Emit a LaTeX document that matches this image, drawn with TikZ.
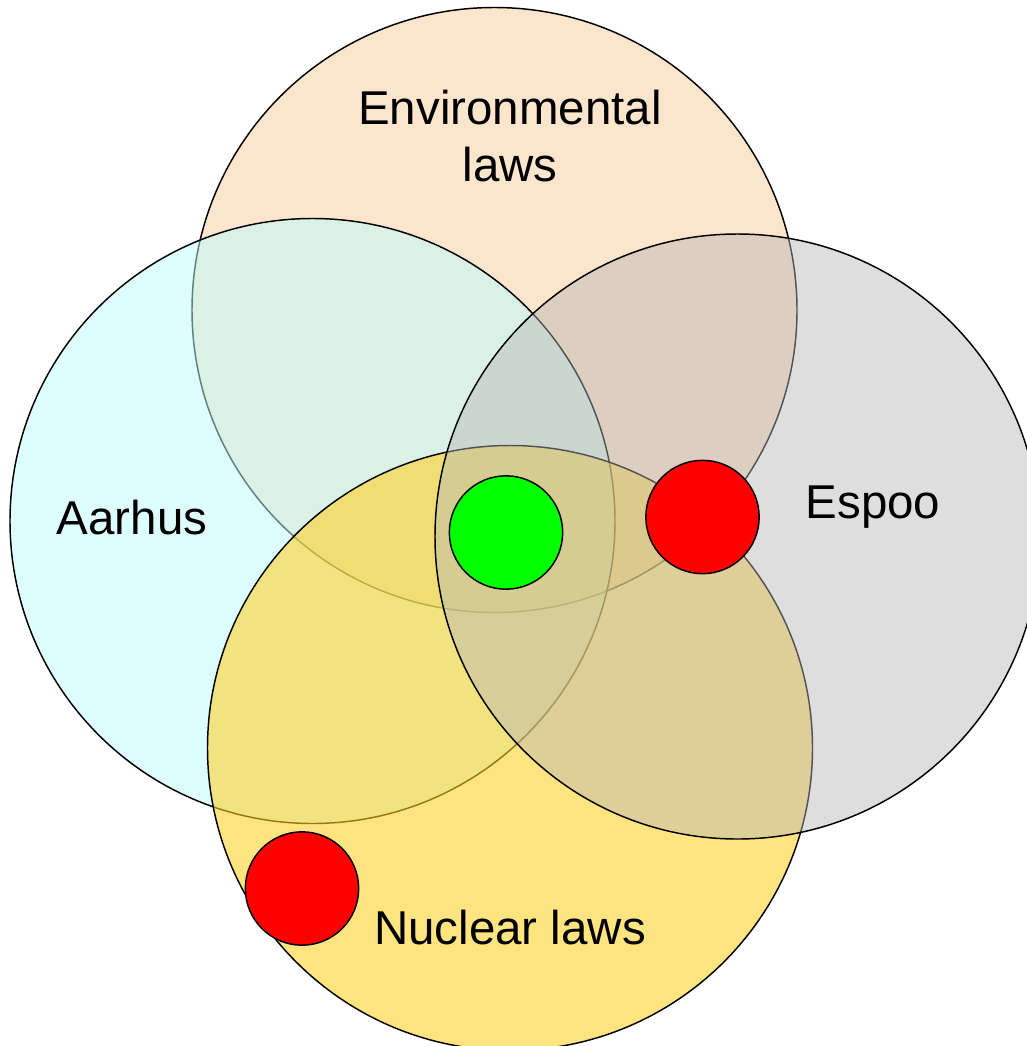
\documentclass[tikz,border=0pt]{standalone}
\usepackage{fontspec}
\setmainfont{Liberation Sans}
\usetikzlibrary{positioning}

\definecolor{envpeach}{RGB}{252,229,205}
\definecolor{aarhuscyan}{RGB}{190,253,253}
\definecolor{nuclearyellow}{RGB}{255,209,36}
\definecolor{espoogray}{RGB}{183,183,183}
\definecolor{dotgreen}{RGB}{0,255,0}
\definecolor{dotred}{RGB}{255,0,0}

\begin{document}
\begin{tikzpicture}[x=0.75pt, y=-0.75pt,
    setline/.style={draw=black, line width=1.1pt},
    dot/.style={circle, draw=black, line width=1.1pt, minimum size=85pt, inner sep=0pt},
    lbl/.style={font=\fontsize{35.6}{42.8}\selectfont, align=center}]
    \useasboundingbox (0,0) rectangle (1027,1046);
    \clip (0,0) rectangle (1027,1046);

    % The four sets
    \draw[setline, fill=envpeach] (494.5,310) circle (302.5);
    \draw[setline, fill=aarhuscyan, fill opacity=0.5] (312.5,521) circle (302.5);
    \draw[setline, fill=nuclearyellow, fill opacity=0.58] (510,748) circle (302.5);
    \draw[setline, fill=espoogray, fill opacity=0.46] (737.5,536.5) circle (302.5);

    % Set labels
    \node[lbl] (envlabel) at (510,136) {Environmental\\laws};
    \node[lbl, anchor=base] (aarhuslabel) at (132,534) {Aarhus};
    \node[lbl, anchor=base] (espoolabel) at (873,518) {Espoo};
    \node[lbl, anchor=base] (nuclearlabel) at (510,944) {Nuclear laws};

    % Markers
    \node[dot, fill=dotgreen] (greendot) at (506,532.5) {};
    \node[dot, fill=dotred] (reddot) at (702.5,517) {};
    \node[dot, fill=dotred] (lowreddot) at (302,888.5) {};
\end{tikzpicture}
\end{document}
